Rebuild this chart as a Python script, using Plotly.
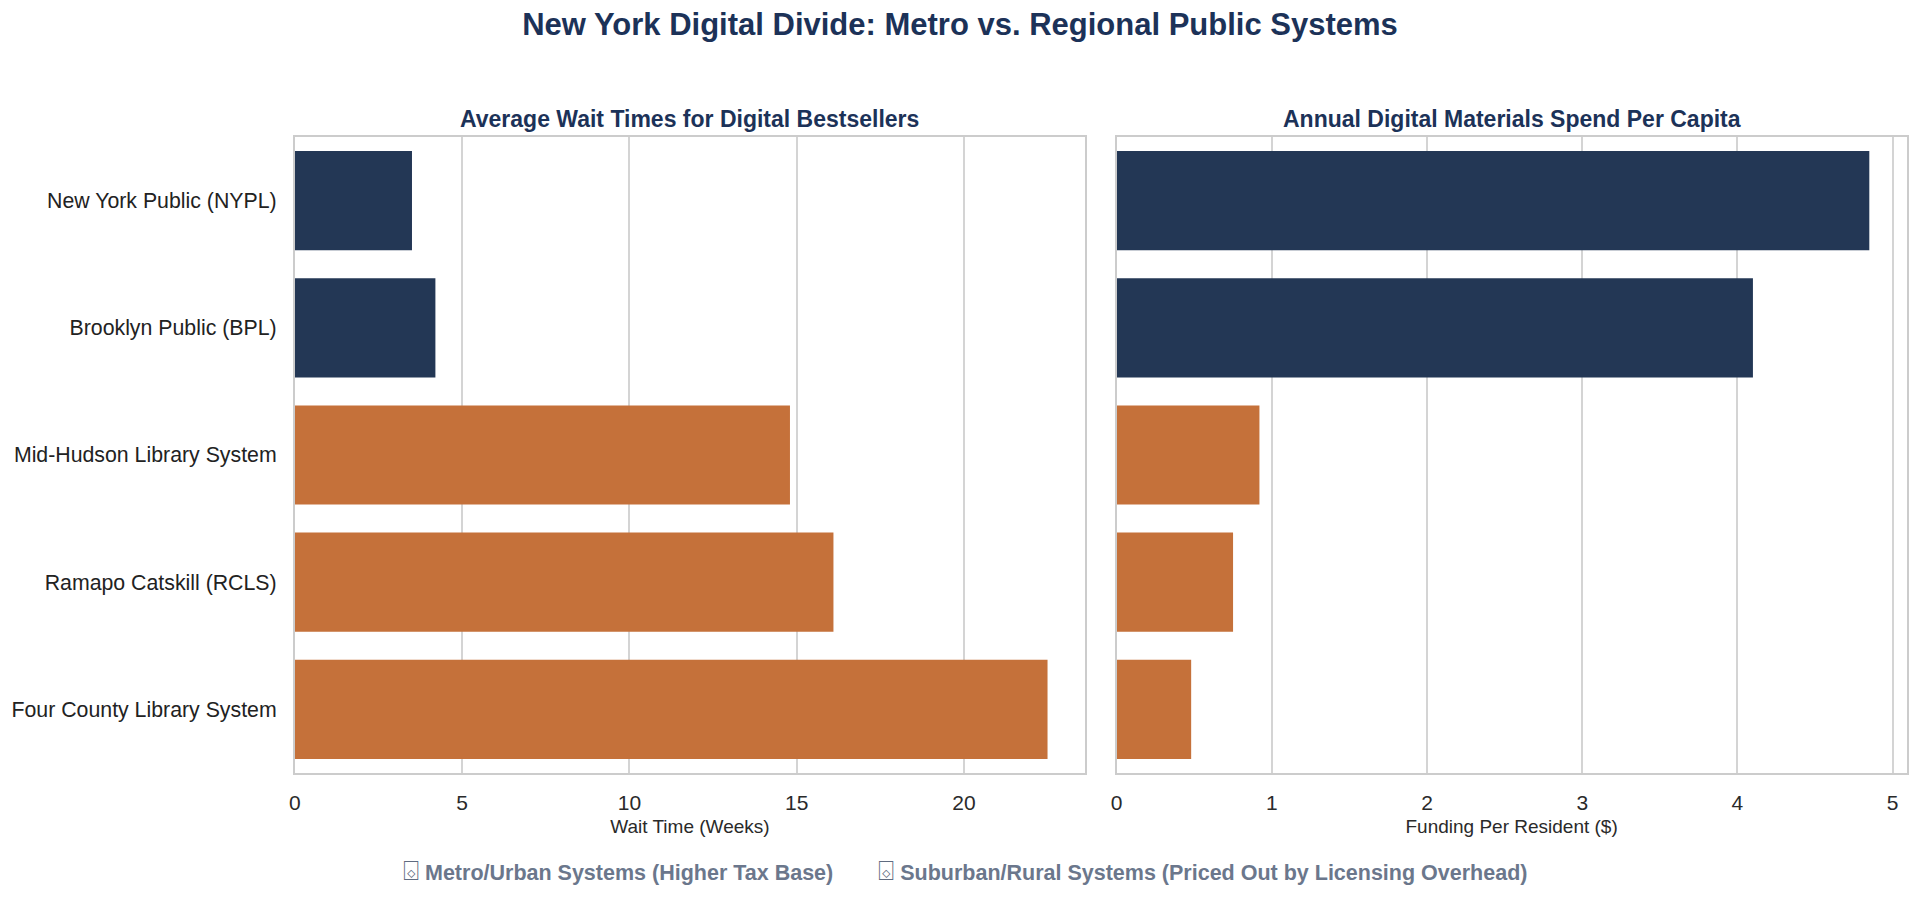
import plotly.graph_objects as go

# ---- data ----
systems = [
    "New York Public (NYPL)",
    "Brooklyn Public (BPL)",
    "Mid-Hudson Library System",
    "Ramapo Catskill (RCLS)",
    "Four County Library System",
]
system_group = ["Metro", "Metro", "Regional", "Regional", "Regional"]
wait_weeks = [3.5, 4.2, 14.8, 16.1, 22.5]
spend_per_capita = [4.85, 4.1, 0.92, 0.75, 0.48]

wait_ticks = [0, 5, 10, 15, 20]
spend_ticks = [0, 1, 2, 3, 4, 5]

legend_names = {
    "Metro": "Metro/Urban Systems (Higher Tax Base)",
    "Regional": "Suburban/Rural Systems (Priced Out by Licensing Overhead)",
}

# ---- styles ----
NAVY = "#233755"
ORANGE = "#c5713a"
TITLE_C = "#1c3258"
GRID = "#d4d4d4"
FRAME = "#cccccc"
LEG_C = "#6b778c"
FONT = "Helvetica Neue, Helvetica, Arial, Liberation Sans, sans-serif"
group_color = {"Metro": NAVY, "Regional": ORANGE}
colors = [group_color[g] for g in system_group]

fig = go.Figure()

fig.add_trace(go.Bar(
    x=wait_weeks, y=systems, orientation="h",
    marker=dict(color=colors, line=dict(width=0)),
    xaxis="x", yaxis="y", showlegend=False,
))
fig.add_trace(go.Bar(
    x=spend_per_capita, y=systems, orientation="h",
    marker=dict(color=colors, line=dict(width=0)),
    xaxis="x2", yaxis="y2", showlegend=False,
))

# legend entries (icon drawn as a glyph in the entry text)
for key in ["Metro", "Regional"]:
    fig.add_trace(go.Scatter(
        x=[None], y=[None], mode="lines",
        name="<span style='font-weight:normal;font-size:27px;fill:#5f6b80'>⌺</span> <b>"
             + legend_names[key] + "</b>",
        line=dict(width=0, color="rgba(0,0,0,0)"),
        xaxis="x", yaxis="y", showlegend=True,
    ))

LD = [0.1536, 0.5651]
RD = [0.5816, 0.993]

axis_common = dict(
    showgrid=True, gridcolor=GRID, gridwidth=1.5,
    showline=True, linecolor=FRAME, linewidth=2, mirror=True,
    zeroline=False, ticks="outside", ticklen=10, tickcolor="rgba(0,0,0,0)",
    tickfont=dict(size=21, color="#2a2a2a", family=FONT),
    automargin=False,
)

fig.update_layout(
    width=1920, height=898,
    paper_bgcolor="white", plot_bgcolor="white",
    margin=dict(l=0, r=0, t=137, b=125),
    font=dict(family=FONT),
    bargap=0.22,
    title=dict(
        text="<b>New York Digital Divide: Metro vs. Regional Public Systems</b>",
        x=0.5, xanchor="center", y=1 - 24.5 / 898, yanchor="middle", yref="container",
        font=dict(size=31, color=TITLE_C, family=FONT),
    ),
    xaxis=dict(
        domain=LD, range=[0, 23.62], tickvals=wait_ticks,
        title=dict(text="Wait Time (Weeks)", standoff=6,
                   font=dict(size=19, color="#2a2a2a", family=FONT)),
        anchor="y", **axis_common,
    ),
    xaxis2=dict(
        domain=RD, range=[0, 5.09], tickvals=spend_ticks,
        title=dict(text="Funding Per Resident ($)", standoff=6,
                   font=dict(size=19, color="#2a2a2a", family=FONT)),
        anchor="y2", **axis_common,
    ),
    yaxis=dict(
        domain=[0, 1], anchor="x", autorange="reversed",
        showgrid=False, showline=True, linecolor=FRAME, linewidth=2, mirror=True,
        ticks="outside", ticklen=12, tickcolor="rgba(0,0,0,0)",
        tickfont=dict(size=21.3, color="#222222", family=FONT), automargin=False,
    ),
    yaxis2=dict(
        domain=[0, 1], anchor="x2", autorange="reversed", matches="y",
        showgrid=False, showline=True, linecolor=FRAME, linewidth=2, mirror=True,
        showticklabels=False, ticks="", automargin=False,
    ),
    legend=dict(
        orientation="h", x=0.5 - 12 / 1920, xanchor="center", y=-99 / 636, yanchor="middle",
        font=dict(size=21.5, color=LEG_C, family=FONT),
        itemwidth=30, bgcolor="rgba(0,0,0,0)",
    ),
    annotations=[
        dict(text="<b>Average Wait Times for Digital Bestsellers</b>",
             x=(LD[0] + LD[1]) / 2, xref="paper", y=1, yref="paper",
             xanchor="center", yanchor="bottom", yshift=3, showarrow=False,
             font=dict(size=23, color=TITLE_C, family=FONT)),
        dict(text="<b>Annual Digital Materials Spend Per Capita</b>",
             x=(RD[0] + RD[1]) / 2, xref="paper", y=1, yref="paper",
             xanchor="center", yanchor="bottom", yshift=3, showarrow=False,
             font=dict(size=23, color=TITLE_C, family=FONT)),
    ],
)

fig.write_html("out.html")
